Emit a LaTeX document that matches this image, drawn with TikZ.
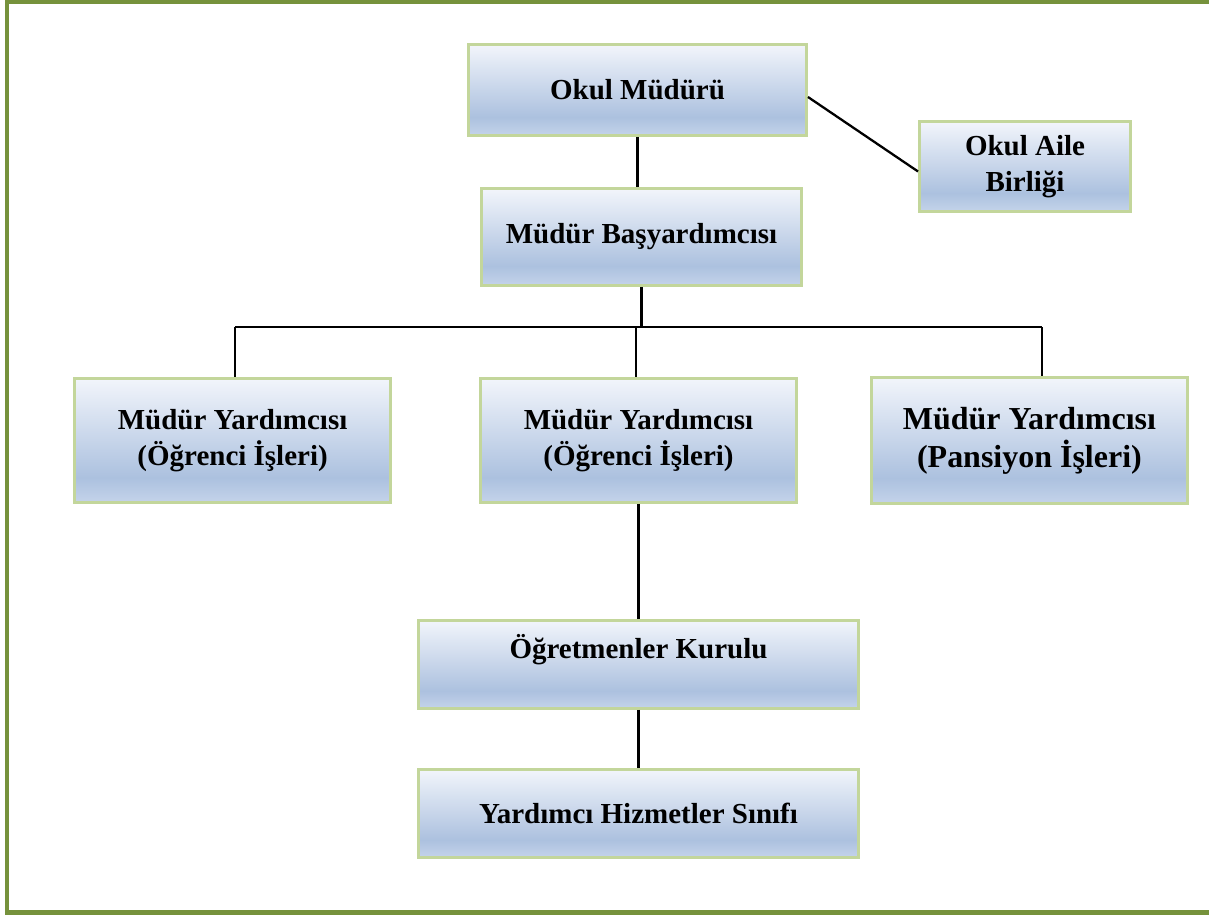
\documentclass[tikz,border=0pt]{standalone}
\usepackage{fontspec}
\setmainfont{Liberation Serif}
\usetikzlibrary{positioning}

\definecolor{framegreen}{HTML}{76923C}
\definecolor{boxline}{HTML}{C3D69B}
\definecolor{gradtop}{HTML}{F2F5FB}
\definecolor{graddeep}{HTML}{ACC1DF}
\definecolor{gradlow}{HTML}{C4D3EA}
\pgfdeclareverticalshading{boxshade}{100bp}{color(0bp)=(gradlow); color(25bp)=(gradlow); color(35bp)=(graddeep); color(75bp)=(gradtop); color(100bp)=(gradtop)}

\begin{document}
\begin{tikzpicture}[
  x=0.02cm, y=-0.02cm,
  font=\bfseries\fontsize{16.5}{20.5}\selectfont,
  unit/.style={draw=boxline, line width=1.7pt, shading=boxshade, align=center, inner sep=2pt},
  deputy/.style={unit, minimum width=6.32cm, minimum height=2.48cm},
  wide/.style={unit, minimum width=8.8cm, minimum height=1.76cm},
  link/.style={line width=1.3pt}
]
\useasboundingbox (0,0) rectangle (1209,915);
\draw[framegreen, line width=2.3pt] (1215,2) -- (7,2) -- (7,912.5) -- (1215,912.5);

\node[unit, minimum width=6.76cm, minimum height=1.82cm] (mudur) at (637.5,90) {Okul Müdürü};
\node[unit, minimum width=4.22cm, minimum height=1.8cm] (aile) at (1025,166.5) {Okul Aile\\ Birliği};
\node[unit, below=1cm of mudur, xshift=0.08cm, minimum width=6.4cm, minimum height=1.94cm] (basyard) {Müdür Başyardımcısı};

\node[deputy, below=1.8cm of basyard, xshift=-0.06cm] (mymid) {Müdür Yardımcısı\\ (Öğrenci İşleri)};
\node[deputy, left=1.74cm of mymid] (myleft) {Müdür Yardımcısı\\ (Öğrenci İşleri)};
\node[deputy, right=1.44cm of mymid, minimum height=2.52cm, font=\bfseries\fontsize{18.2}{21.6}\selectfont] (myright) {Müdür Yardımcısı\\ (Pansiyon İşleri)};

\node[wide, below=2.3cm of mymid] (ogret) {Öğretmenler Kurulu\\ \mbox{}};
\node[wide, below=1.16cm of ogret] (yhs) {Yardımcı Hizmetler Sınıfı};

% yatay dağıtım hattı
\coordinate (busL) at (235,327);
\coordinate (busM) at (636,327);
\coordinate (busR) at (1042,327);

\draw[link] (mudur.south) -- (mudur.south |- basyard.north);
\draw[link] ([yshift=-0.14cm]mudur.east) -- ([yshift=-0.1cm]aile.west);
\draw[link] (basyard.south) -- (basyard.south |- busM);
\draw[link] (busL) -- (busR);
\draw[link] (busL) -- (busL |- myleft.north);
\draw[link] (busM) -- (busM |- mymid.north);
\draw[link] (busR) -- (busR |- myright.north);
\draw[link] (mymid.south) -- (mymid.south |- ogret.north);
\draw[link] (ogret.south) -- (ogret.south |- yhs.north);
\end{tikzpicture}
\end{document}
